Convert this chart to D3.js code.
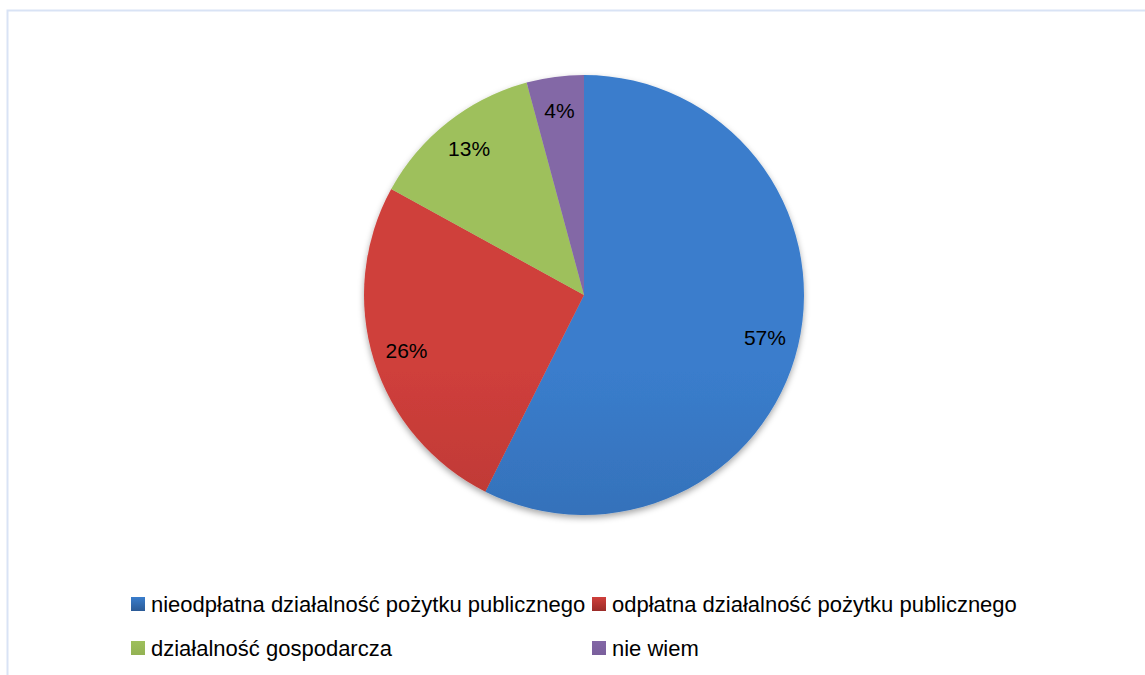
<!DOCTYPE html>
<html><head><meta charset="utf-8">
<script src="https://cdn.jsdelivr.net/npm/d3@7/dist/d3.min.js"></script>
<style>body{margin:0;background:#fff}svg{display:block}</style>
</head><body>
<script>
const categories = ["nieodpłatna działalność pożytku publicznego","odpłatna działalność pożytku publicznego","działalność gospodarcza","nie wiem"];
const values = [57.4, 25.6, 12.8, 4.2];
const labels = ["57%","26%","13%","4%"];
const colorsTop = ["#3a7dcc","#cf3f3b","#9ec05c","#8367a6"];
const colorsBottom = ["#2b5a96","#9b2c29","#93b253","#7a5f9c"];

const W=1145,H=675, cx=584, cy=295, R=220;
const FONT="Liberation Sans, Arial, sans-serif";
const svg=d3.select("body").append("svg").attr("width",W).attr("height",H);
svg.append("rect").attr("x",7.5).attr("y",10.5).attr("width",1200).attr("height",800)
  .attr("fill","none").attr("stroke","#d9e3f5").attr("stroke-width",2);

const defs=svg.append("defs");
const f=defs.append("filter").attr("id","sh").attr("x","-20%").attr("y","-20%").attr("width","140%").attr("height","140%");
f.append("feDropShadow").attr("dx",0).attr("dy",3).attr("stdDeviation",3).attr("flood-color","#000").attr("flood-opacity",0.35);
categories.forEach((c,i)=>{
  const g=defs.append("linearGradient").attr("id","g"+i).attr("gradientUnits","userSpaceOnUse")
    .attr("x1",0).attr("y1",cy-R).attr("x2",0).attr("y2",cy+R);
  g.append("stop").attr("offset",0).attr("stop-color",colorsTop[i]);
  g.append("stop").attr("offset",1).attr("stop-color",colorsBottom[i]);
  const lgd=defs.append("linearGradient").attr("id","lg"+i).attr("x1",0).attr("y1",0).attr("x2",0).attr("y2",1);
  lgd.append("stop").attr("offset",0).attr("stop-color",colorsTop[i]);
  lgd.append("stop").attr("offset",1).attr("stop-color",colorsBottom[i]);
});

const pie=d3.pie().sort(null).value(d=>d)(values);
const arc=d3.arc().innerRadius(0).outerRadius(R);
const gp=svg.append("g").attr("transform",`translate(${cx},${cy})`);
gp.append("g").attr("filter","url(#sh)").selectAll("path").data(pie).join("path")
  .attr("d",arc).attr("fill",(d,i)=>`url(#g${i})`);
const labArc=d3.arc().innerRadius(R*0.845).outerRadius(R*0.845);
gp.selectAll("text").data(pie).join("text")
  .attr("transform",d=>`translate(${labArc.centroid(d)})`)
  .attr("text-anchor","middle").attr("dominant-baseline","central")
  .attr("font-family",FONT).attr("font-size",21).attr("fill","#000")
  .text((d,i)=>labels[i]);

const legX=[131,592], legY=[604,648];
const lg=svg.append("g");
categories.forEach((c,i)=>{
  const x=legX[i%2], y=legY[Math.floor(i/2)];
  lg.append("rect").attr("x",x).attr("y",y-7).attr("width",14).attr("height",14).attr("fill",`url(#lg${i})`);
  lg.append("text").attr("x",x+20).attr("y",y).attr("dominant-baseline","central")
    .attr("font-family",FONT).attr("font-size",22).attr("fill","#000").text(c);
});
</script>
</body></html>
